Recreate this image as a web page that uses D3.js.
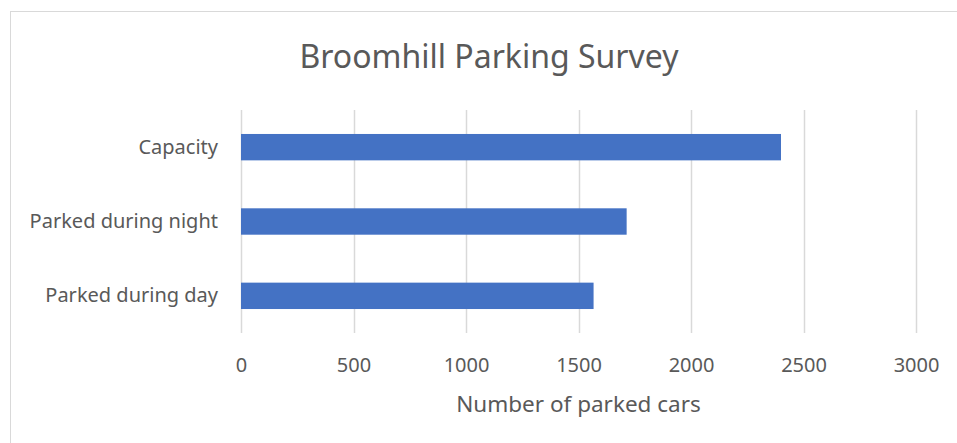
<!DOCTYPE html>
<html>
<head>
<meta charset="utf-8">
<script src="https://cdn.jsdelivr.net/npm/d3@7"></script>
<style>
  html, body { margin: 0; padding: 0; background: #fff; }
  svg text { font-family: "Noto Sans", "Open Sans", sans-serif; fill: #595959; }
</style>
</head>
<body>
<div id="chart"></div>
<script>
// data
const categories = ["Capacity", "Parked during night", "Parked during day"];
const values     = [2400, 1714, 1567];
const xTicks     = [0, 500, 1000, 1500, 2000, 2500, 3000];
const title      = "Broomhill Parking Survey";
const xTitle     = "Number of parked cars";

const W = 957, H = 443;
const m = { top: 110, right: 41, bottom: 110, left: 241 };

const svg = d3.select("#chart")
  .append("svg")
    .attr("width", W)
    .attr("height", H);

// chart frame
svg.append("rect")
    .attr("x", 10.5).attr("y", 11.5)
    .attr("width", W).attr("height", H)
    .attr("fill", "none")
    .attr("stroke", "#d9d9d9");

const x = d3.scaleLinear()
  .domain([0, 3000])
  .range([m.left, W - m.right]);

const y = d3.scaleBand()
  .domain(categories)
  .range([m.top, H - m.bottom])
  .paddingInner(0.645)
  .paddingOuter(0.3225);

// gridlines
svg.append("g")
  .selectAll("line")
  .data(xTicks)
  .join("line")
    .attr("x1", d => Math.round(x(d)) + 0.5)
    .attr("x2", d => Math.round(x(d)) + 0.5)
    .attr("y1", m.top)
    .attr("y2", H - m.bottom)
    .attr("stroke", "#d9d9d9")
    .attr("stroke-width", 1.5);

// bars
svg.append("g")
  .selectAll("rect")
  .data(categories)
  .join("rect")
    .attr("x", x(0))
    .attr("y", d => y(d))
    .attr("width", (d, i) => x(values[i]) - x(0))
    .attr("height", y.bandwidth())
    .attr("fill", "#4472c4");

// x axis tick labels
const xAxis = svg.append("g")
    .attr("transform", `translate(0,${H - m.bottom})`)
    .call(d3.axisBottom(x).tickValues(xTicks).tickFormat(d3.format("d"))
      .tickSize(0).tickPadding(25));
xAxis.select(".domain").remove();
xAxis.selectAll("text")
    .style("font-size", "20px")
    .style("font-family", null);

// y axis labels
const yAxis = svg.append("g")
    .attr("transform", `translate(${m.left},0)`)
    .call(d3.axisLeft(y).tickSize(0).tickPadding(23));
yAxis.select(".domain").remove();
yAxis.selectAll("text")
    .style("font-size", "20px")
    .style("font-family", null);

// titles
svg.append("text")
    .attr("x", 489)
    .attr("y", 68)
    .attr("text-anchor", "middle")
    .style("font-size", "32px")
    .text(title);

svg.append("text")
    .attr("x", x(1500))
    .attr("y", 412)
    .attr("text-anchor", "middle")
    .style("font-size", "22.5px")
    .text(xTitle);
</script>
</body>
</html>
